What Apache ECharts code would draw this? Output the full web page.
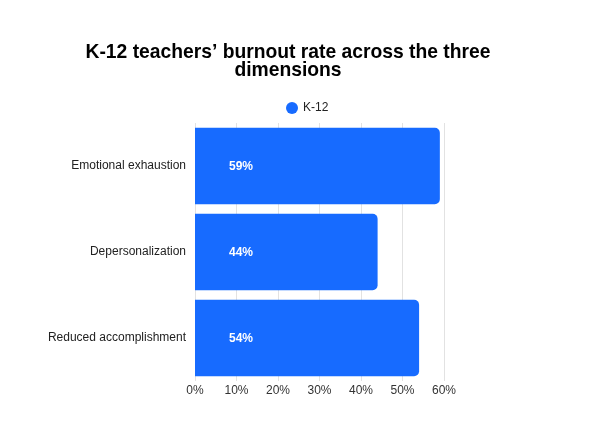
<!DOCTYPE html>
<html>
<head>
<meta charset="utf-8">
<script src="https://cdn.jsdelivr.net/npm/echarts@6/dist/echarts.min.js"></script>
<style>
html,body{margin:0;padding:0;background:#fff;}
#main{width:591px;height:447px;}
</style>
</head>
<body>
<div id="main"></div>
<script>
// 数据
var categories = ['Emotional exhaustion', 'Depersonalization', 'Reduced accomplishment'];
var values = [59, 44, 54];
var seriesName = 'K-12';
var xTicks = [0, 10, 20, 30, 40, 50, 60];

var font = 'Arial, "Liberation Sans", sans-serif';
var myChart = echarts.init(document.getElementById('main'));
var option = {
	backgroundColor: '#fff',
	title: {
		text: 'K-12 teachers\u2019 burnout rate across the three\ndimensions',
		left: 283,
		top: 38,
		textAlign: 'center',
		textStyle: {fontFamily: font, fontSize: 19.3, fontWeight: 'bold', color: '#000', lineHeight: 18.5}
	},
	legend: {
		data: [seriesName],
		left: 286,
		top: 102,
		padding: 0,
		icon: 'circle',
		itemWidth: 12,
		itemHeight: 12,
		itemGap: 5,
		textStyle: {fontFamily: font, fontSize: 12, color: '#222'}
	},
	grid: {left: 195, right: 147, top: 123, bottom: 66, containLabel: false},
	xAxis: {
		type: 'value',
		min: xTicks[0],
		max: xTicks[xTicks.length - 1],
		interval: 10,
		axisLine: {show: false},
		axisTick: {show: false},
		splitLine: {lineStyle: {color: '#e2e2e2', width: 1}},
		axisLabel: {formatter: '{value}%', margin: 4, fontFamily: font, fontSize: 12, color: '#333'}
	},
	yAxis: {
		type: 'category',
		inverse: true,
		data: categories,
		axisLine: {show: false},
		axisTick: {show: false},
		axisLabel: {margin: 9, fontFamily: font, fontSize: 12, color: '#222'}
	},
	series: [{
		name: seriesName,
		type: 'bar',
		data: values,
		barCategoryGap: '11%',
		itemStyle: {color: '#176bff', borderRadius: [0, 5, 5, 0]},
		label: {
			show: true,
			position: [34, '50%'],
			verticalAlign: 'middle',
			offset: [0, 1],
			formatter: '{c}%',
			fontFamily: font,
			fontSize: 12,
			fontWeight: 'bold',
			color: '#fff'
		}
	}]
};
myChart.setOption(option);
</script>
</body>
</html>
